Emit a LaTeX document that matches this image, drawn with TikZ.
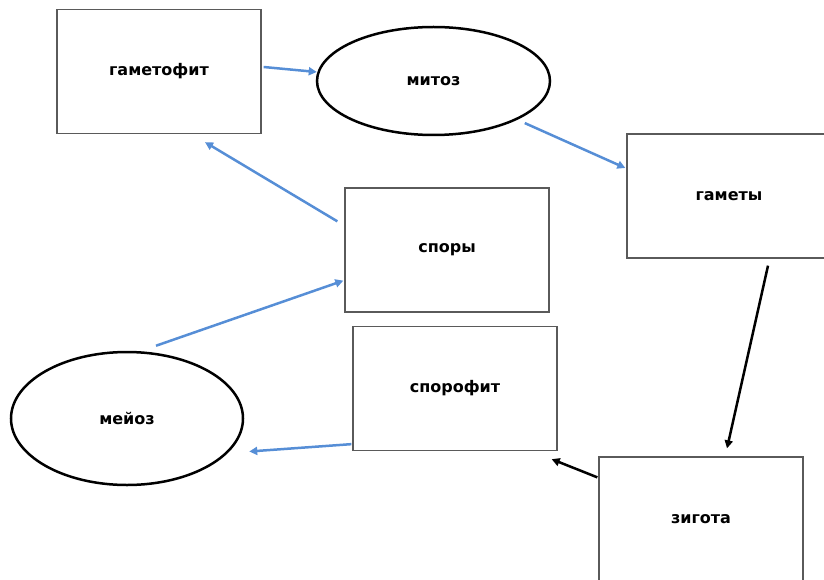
\documentclass[tikz,border=0pt]{standalone}
\usepackage{fontspec}
\setmainfont{DejaVu Sans}
\usetikzlibrary{positioning,shapes.geometric,arrows.meta,calc}

\definecolor{boxgray}{RGB}{90,90,90}
\definecolor{flowblue}{RGB}{86,142,214}

\begin{document}
\begin{tikzpicture}[
    x=1pt,y=-1pt,
    font=\fontsize{16}{19}\selectfont\bfseries,
    stagebox/.style={rectangle,draw=boxgray,line width=1.3pt,minimum width=204pt,minimum height=124pt,inner sep=0pt},
    division/.style={ellipse,draw=black,line width=2.5pt,inner sep=0pt},
    blueline/.style={draw=flowblue,line width=2.5pt,-{Triangle[length=8pt,width=8pt]}},
    blackline/.style={draw=black,line width=2.5pt,-{Triangle[length=8pt,width=8pt]}}
]

\clip (0,0) rectangle (824,580);

% === Stages ===
\node[stagebox] (gametofit) at (159,71.5) {гаметофит};
\node[stagebox] (gamety) at (729,196) {гаметы};
\node[stagebox] (spory) at (447,250) {споры};
\node[stagebox] (sporofit) at (455,388.5) {спорофит};
\node[stagebox] (zigota) at (701,519) {зигота};

% === Divisions ===
\node[division,minimum width=233pt,minimum height=108pt] (mitoz) at (433.5,81) {митоз};
\node[division,minimum width=232pt,minimum height=133pt] (meioz) at (127,418.5) {мейоз};

% === Cycle ===
\draw[blueline] ($(gametofit.east)+(2,-4.5)$) -- ($(mitoz.west)+(1,-9)$);
\draw[blueline] ($(mitoz.south east)+(8,3)$) -- ($(gamety.west)+(-1,-28)$);
\draw[blackline] ($(gamety.south)+(39,7)$) -- ($(zigota.north)+(26,-8)$);
\draw[blackline] ($(zigota.north west)+(-1,21)$) -- ($(sporofit.south east)+(-6,8)$);
\draw[blueline] ($(sporofit.south west)+(-1,-7)$) -- ($(meioz.east)+(5,33)$);
\draw[blueline] ($(meioz.north)+(29,-5)$) -- ($(spory.south west)+(-1,-32)$);
\draw[blueline] ($(spory.north west)+(-7,34)$) -- ($(gametofit.south)+(46,8)$);

\end{tikzpicture}
\end{document}
